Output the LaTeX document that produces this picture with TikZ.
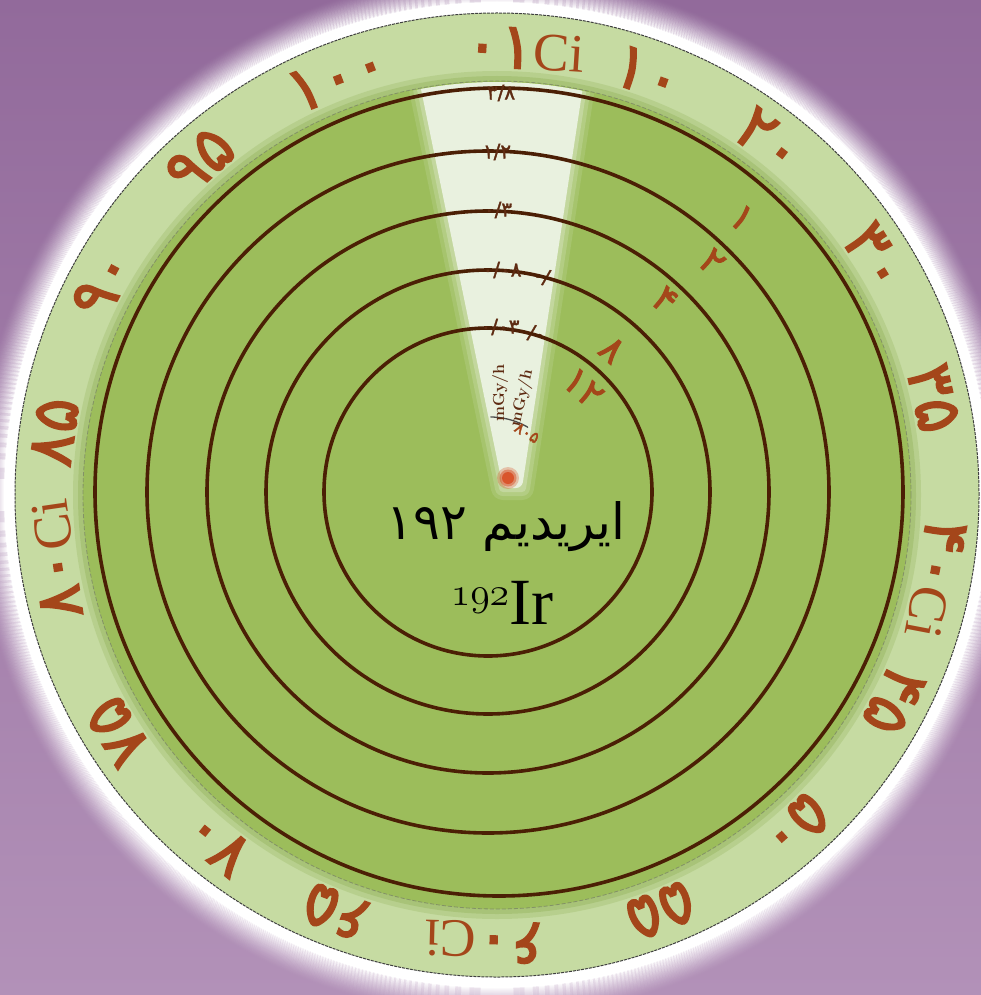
\documentclass[tikz,border=0pt]{standalone}
\usepackage{fontspec}
\TeXXeTstate=1
\newfontfamily\arabicfont[Script=Arabic]{DejaVu Sans}
\newfontfamily\digfont[FakeBold=2.2]{DejaVu Sans}
\newfontfamily\tickfont[FakeBold=1.5]{DejaVu Sans}
\newfontfamily\cifont{Liberation Serif}
\definecolor{bgtop}{HTML}{926A9B}
\definecolor{bgbot}{HTML}{B291B8}
\definecolor{ringgreen}{HTML}{C6DBA2}
\definecolor{diskgreen}{HTML}{9CBD5B}
\definecolor{diskedge}{HTML}{8DAF52}
\definecolor{wedgecol}{HTML}{E9F1DF}
\definecolor{circbrown}{HTML}{4B1F05}
\definecolor{digbrown}{HTML}{A4461A}
\definecolor{tickbrown}{HTML}{5E2B12}
\definecolor{dotred}{HTML}{D9552C}
\tikzset{
  ringlab/.style={text=digbrown, inner sep=0pt, font=\digfont\fontsize{64}{64}\selectfont},
  diaglab/.style={text=digbrown, inner sep=0pt, font=\digfont\fontsize{38}{38}\selectfont},
  ticklab/.style={text=tickbrown, inner sep=0pt, font=\tickfont\fontsize{20}{20}\selectfont},
  unitlab/.style={text=tickbrown, inner sep=0pt, font=\bfseries\fontsize{16}{16}\selectfont},
  ringcirc/.style={circbrown, line width=3.6pt},
}
\newcommand\cisym{{\cifont\fontsize{54}{54}\selectfont Ci}}
\newcommand\ringlabel[3]{\node[ringlab, rotate={#2-90}] (#1) at ({497+447*cos(#2)},{495-447*sin(#2)}) {#3};}
\newcommand\dialUnit[1]{\node[unitlab, rotate=90] (#1u) at (500,393) {mGy/h};}
\newcommand\dialLow[1]{%
  \node[ticklab] (#1t4) at (502,270) {۰/۰۸};
  \node[ticklab] (#1t5) at (500,327) {۰/۰۳};
}
\newcommand\dialHigh[1]{%
  \node[ticklab] (#1t1) at (501,93) {۳/۸};
  \node[ticklab] (#1t2) at (497,152) {۱/۲};
  \node[ticklab] (#1t3) at (498,210) {۰/۳};
}
\begin{document}
\begin{tikzpicture}[x=1pt,y=-1pt]
\useasboundingbox (0,0) rectangle (981,995);
\shade[top color=bgtop, bottom color=bgbot] (0,0) rectangle (981,995);
% glow
\foreach \i in {0,...,29}{
  \pgfmathsetmacro\op{(1-\i/30)^1.6}
  \fill[white, opacity=\op, even odd rule] (497,495) circle[radius={(492+\i)*1pt}] circle[radius={(493+\i)*1pt}];
}
\fill[white] (497,495) circle[radius=493pt];
% outer ring
\fill[ringgreen] (497,495) circle[radius=482pt];
\draw[black!75, line width=1pt, dash pattern=on 3pt off 1pt] (497,495) circle[radius=482pt];
% inner disk with soft edge
\fill[diskedge, opacity=0.25] (497,495) circle[radius=424pt];
\fill[diskedge, opacity=0.35] (497,495) circle[radius=419pt];
\fill[diskgreen] (497,495) circle[radius=414pt];
\draw[black!60, opacity=0.5, line width=0.8pt, dash pattern=on 4pt off 2pt] (497,495) circle[radius=414pt];
% wedge window
\def\wedgepath{(415,60) -- (587,60) -- (522,488) -- (503,488) -- cycle}
\def\ghostpath{(417,60) -- (583,60) -- (519,488) -- (505,488) -- cycle}
\begin{scope}
  \clip (497,495) circle[radius=413pt];
  \foreach \w/\o in {24/0.14,16/0.2,8/0.3}{
    \draw[wedgecol, opacity=\o, line width=\w pt, line join=round] \wedgepath;
  }
  \fill[wedgecol, rounded corners=6pt] \wedgepath;
  \begin{scope}
    \clip \ghostpath;
    \draw[black!70, line width=1.3pt] (490,492) circle[radius=75pt];
    \begin{scope}[rotate around={-13:(488,492)}, transform shape]
      \dialUnit{g}
      \dialLow{g}
    \end{scope}
  \end{scope}
\end{scope}
% red dot
\fill[dotred, opacity=0.3] (508,478) circle[radius=11pt];
\fill[dotred, opacity=0.5] (508,478) circle[radius=8.5pt];
\fill[dotred] (508,478) circle[radius=6pt];
% concentric circles
\draw[ringcirc] (499,492) circle[radius=404pt];
\draw[ringcirc] (488,492) circle[radius=341pt];
\draw[ringcirc] (488,492) circle[radius=281pt];
\draw[ringcirc] (488,492) circle[radius=222pt];
\draw[ringcirc] (488,492) circle[radius=164pt];
% dial labels
\dialUnit{m}
\dialLow{m}
\dialHigh{m}
% diagonal labels
\node[diaglab, rotate=-43] (d1) at (742,218) {۱};
\node[diaglab, rotate=-44] (d2) at (712,262) {۲};
\node[diaglab, rotate=-42] (d4) at (665,300) {۴};
\node[diaglab, rotate=-41] (d8) at (612,350) {۸};
\node[diaglab, rotate=-42] (d12) at (583,388) {۱۲};
\node[diaglab, rotate=-32, font=\digfont\fontsize{16}{16}\selectfont] (dsm) at (527,433) {۸۰۵};
% ring labels
\ringlabel{r0}{86.4}{۰۱\cisym}
\ringlabel{r10}{70.3}{۱۰}
\ringlabel{r20}{52.4}{۲۰}
\ringlabel{r30}{32.1}{۳۰}
\ringlabel{r35}{12.5}{۳۵}
\ringlabel{r40}{-10.8}{۴۰\cisym}
\ringlabel{r45}{-27.4}{۴۵}
\ringlabel{r50}{-48}{۵۰}
\ringlabel{r55}{-68.5}{۵۵}
\ringlabel{r60}{-91.5}{۶۰\cisym}
\ringlabel{r65}{-111}{۶۵}
\ringlabel{r70}{-128.8}{۷۰}
\ringlabel{r75}{-148}{۷۵}
\ringlabel{r80}{-171.7}{۸۰\cisym}
\ringlabel{r85}{171.9}{۸۵}
\ringlabel{r90}{151.8}{۹۰}
\ringlabel{r95}{131.6}{۹۵}
\ringlabel{r100}{110.9}{۱۰۰}
% centre text
\node[inner sep=0pt] (name) at (506,527) {\arabicfont\fontsize{50}{50}\selectfont\beginR ایریدیم \beginL۱۹۲\endL\endR};
\node[inner sep=0pt] (sym) at (502,603) {\raisebox{19pt}{\fontsize{24.88}{24.88}\selectfont\scalebox{1.6}{$\mathnormal{192}$}}{\cifont\fontsize{66}{66}\selectfont Ir}};
\end{tikzpicture}
\end{document}
